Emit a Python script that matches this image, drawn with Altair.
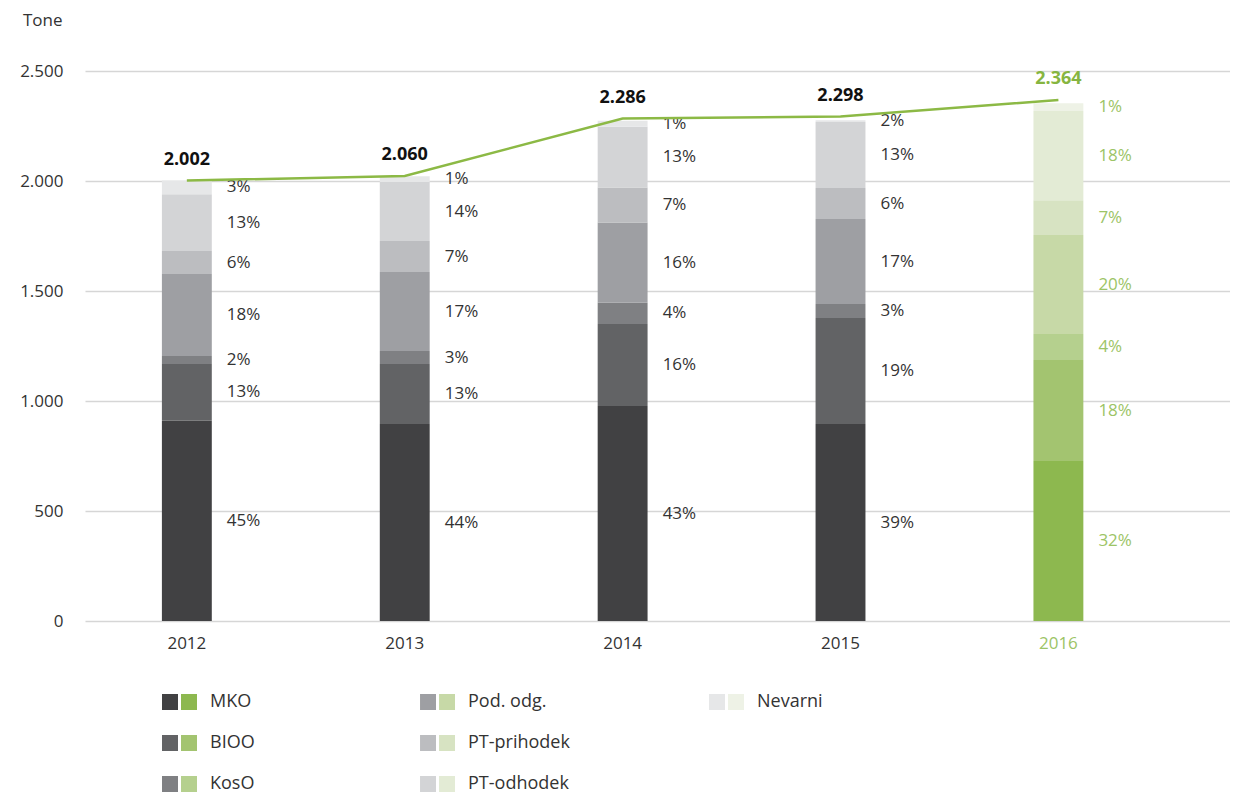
import altair as alt
import pandas as pd

# ---------------- data ----------------
years = ["2012", "2013", "2014", "2015", "2016"]
categories = ["MKO", "BIOO", "KosO", "Pod. odg.", "PT-prihodek", "PT-odhodek", "Nevarni"]

mko = [910, 895, 977, 895, 727]
bioo = [258, 273, 373, 482, 459]
koso = [36, 59, 97, 64, 118]
pod_odg = [373, 359, 364, 386, 450]
pt_prihodek = [105, 141, 159, 141, 159]
pt_odhodek = [258, 268, 277, 300, 405]
nevarni = [62, 27, 27, 8, 35]

pct_mko = ["45%", "44%", "43%", "39%", "32%"]
pct_bioo = ["13%", "13%", "16%", "19%", "18%"]
pct_koso = ["2%", "3%", "4%", "3%", "4%"]
pct_pod_odg = ["18%", "17%", "16%", "17%", "20%"]
pct_pt_prihodek = ["6%", "7%", "7%", "6%", "7%"]
pct_pt_odhodek = ["13%", "14%", "13%", "13%", "18%"]
pct_nevarni = ["3%", "1%", "1%", "2%", "1%"]

total_labels = ["2.002", "2.060", "2.286", "2.298", "2.364"]
line_values = [2002, 2023, 2284, 2293, 2368]

grey_colors = ["#414143", "#626365", "#7f8083", "#9e9fa3", "#bcbdc0", "#d3d4d6", "#e6e7e8"]
green_colors = ["#8db84f", "#a3c470", "#b5d08e", "#c7d9a7", "#d7e3c2", "#e3ebd5", "#eef2e6"]

highlight_year = "2016"

# legend layout (column / row of each entry)
legend_col = [0, 0, 0, 1, 1, 1, 2]
legend_row = [0, 1, 2, 0, 1, 2, 0]

# ---------------- tables ----------------
series = [mko, bioo, koso, pod_odg, pt_prihodek, pt_odhodek, nevarni]
pcts = [pct_mko, pct_bioo, pct_koso, pct_pod_odg, pct_pt_prihodek, pct_pt_odhodek, pct_nevarni]

rows = []
for j, cat in enumerate(categories):
    for i, yr in enumerate(years):
        hl = yr == highlight_year
        rows.append({
            "year": yr,
            "cat": cat,
            "ord": j,
            "value": series[j][i],
            "pct": pcts[j][i],
            "key": cat + (" hl" if hl else ""),
            "grp": "hl" if hl else "base",
        })
df = pd.DataFrame(rows)

line_df = pd.DataFrame({
    "year": years,
    "total": line_values,
    "label": total_labels,
    "grp": ["hl" if y == highlight_year else "base" for y in years],
})

legend_df = pd.DataFrame({
    "cat": categories,
    "col": legend_col,
    "row": legend_row,
    "grey": grey_colors,
    "green": green_colors,
})

color_domain = categories + [c + " hl" for c in categories]
color_range = grey_colors + green_colors

FONT = "Open Sans"
TXT = "#333333"
GREEN_LINE = "#8cb945"
GREEN_TXT = "#9cc466"
GREEN_BOLD = "#86b540"

x_scale = alt.Scale(paddingInner=0.771, paddingOuter=0.513, align=0.344, round=False)
y_scale = alt.Scale(domain=[0, 2500], nice=False)

x_enc = alt.X(
    "year:N",
    scale=x_scale,
    sort=years,
    axis=alt.Axis(
        title=None, domain=False, ticks=False, labelAngle=0, labelPadding=14,
        labelFontSize=17, labelFont=FONT,
        labelColor=alt.condition("datum.value == '2016'", alt.value(GREEN_TXT), alt.value(TXT)),
    ),
)

y_axis = alt.Axis(
    values=[0, 500, 1000, 1500, 2000, 2500],
    labelExpr="replace(format(datum.value, ','), ',', '.')",
    grid=True, gridColor="#d6d6d6", gridWidth=1.5,
    domain=False, ticks=False, tickSize=0, labelPadding=22,
    labelFontSize=17, labelColor=TXT, labelFont=FONT,
    title="Tone", titleAngle=0, titleAlign="right", titleBaseline="middle",
    titleX=-23, titleY=-51, titleFontSize=17, titleFontWeight="normal",
    titleColor=TXT, titleFont=FONT,
)

base = alt.Chart(df)

bars = base.mark_bar().encode(
    x=x_enc,
    y=alt.Y("value:Q", stack="zero", scale=y_scale, axis=y_axis),
    color=alt.Color("key:N", scale=alt.Scale(domain=color_domain, range=color_range), legend=None),
    order=alt.Order("ord:Q", sort="ascending"),
)

pct_labels = base.transform_stack(
    stack="value", groupby=["year"], as_=["y0", "y1"],
    sort=[alt.SortField("ord", order="ascending")],
).transform_calculate(
    mid="(datum.y0 + datum.y1) / 2"
).mark_text(align="left", baseline="middle", dx=40, fontSize=17, font=FONT).encode(
    x=alt.X("year:N", sort=years),
    y=alt.Y("mid:Q"),
    text="pct:N",
    color=alt.condition(alt.datum.grp == "hl", alt.value(GREEN_TXT), alt.value(TXT)),
)

line = alt.Chart(line_df).mark_line(color=GREEN_LINE, strokeWidth=2.5).encode(
    x=alt.X("year:N", sort=years),
    y=alt.Y("total:Q"),
)

total_text = alt.Chart(line_df).mark_text(
    fontWeight="bold", fontSize=18, baseline="middle", dy=-21, font=FONT
).encode(
    x=alt.X("year:N", sort=years),
    y=alt.Y("total:Q"),
    text="label:N",
    color=alt.condition(alt.datum.grp == "hl", alt.value(GREEN_BOLD), alt.value("#111111")),
)

main = alt.layer(bars, pct_labels, line, total_text).properties(width=1145, height=550)

# ---------------- legend ----------------
leg = alt.Chart(legend_df)
lx = alt.X("col:Q", scale=alt.Scale(type="pow", exponent=1.084, domain=[0, 2], range=[85, 632]), axis=None)
ly = alt.Y("row:O", scale=alt.Scale(type="point", padding=0), axis=None)

sq_grey = leg.mark_square(size=256, opacity=1).encode(
    x=lx, y=ly, color=alt.Color("grey:N", scale=None)
)
sq_green = leg.mark_square(size=256, opacity=1, xOffset=19).encode(
    x=lx, y=ly, color=alt.Color("green:N", scale=None)
)
leg_text = leg.mark_text(align="left", baseline="middle", dx=40, fontSize=18, color=TXT, font=FONT).encode(
    x=lx, y=ly, text="cat:N"
)
legend = alt.layer(sq_grey, sq_green, leg_text).properties(width=1145, height=82)

chart = alt.vconcat(main, legend, spacing=81, bounds="flush").resolve_scale(
    x="independent", y="independent", color="independent"
).properties(
    padding={"left": 11, "top": 3, "right": 0, "bottom": 0}
).configure(font=FONT).configure_view(stroke=None)

chart.save("out.html", embed_options={"renderer": "svg", "actions": False})
